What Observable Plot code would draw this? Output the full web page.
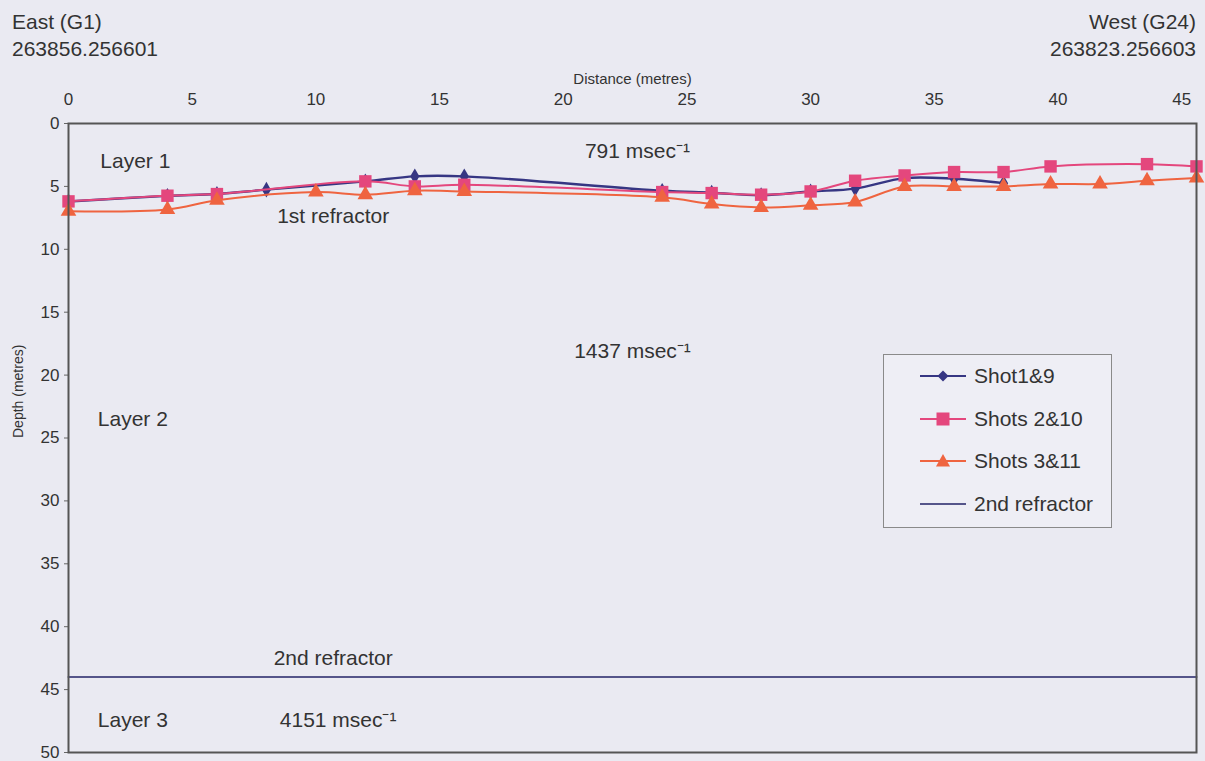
<!DOCTYPE html>
<html>
<head>
<meta charset="utf-8">
<script src="https://cdn.jsdelivr.net/npm/d3@7"></script>
<script src="https://cdn.jsdelivr.net/npm/@observablehq/plot@0.6"></script>
<style>
  html, body { margin: 0; padding: 0; background: #eaeaf2; }
  #wrap { position: relative; width: 1205px; height: 761px; font-family: "Liberation Sans", Arial, sans-serif; color: #333; }
  .hdr { position: absolute; top: 8px; font-size: 21px; line-height: 27px; }
  #legend { position: absolute; left: 883px; top: 354px; width: 227px; height: 172px; border: 1.5px solid #8a8a8a; background: #eeeef5; }
  #legend .row { position: absolute; left: 36px; height: 30px; display: flex; align-items: center; font-size: 21px; }
  #legend svg { margin-right: 8px; }
</style>
</head>
<body>
<div id="wrap">
  <div class="hdr" style="left:12px;">East (G1)<br>263856.256601</div>
  <div class="hdr" style="right:9px; text-align:right;">West (G24)<br>263823.256603</div>
  <div id="chart"></div>
  <div id="legend"></div>
</div>
<script>
// ---- data ----
const distanceTicks = [0, 5, 10, 15, 20, 25, 30, 35, 40, 45];
const depthTicks = [0, 5, 10, 15, 20, 25, 30, 35, 40, 45, 50];

const shot1Distance = [0, 4, 6, 8, 12, 14, 16, 24, 26, 28, 30, 31.8, 33.8, 35.8, 37.8];
const shot1Depth    = [6.2, 5.75, 5.6, 5.26, 4.6, 4.2, 4.2, 5.35, 5.5, 5.7, 5.4, 5.18, 4.34, 4.39, 4.74];

const shot2Distance = [0, 4, 6, 12, 14, 16, 24, 26, 28, 30, 31.8, 33.8, 35.8, 37.8, 39.7, 43.6, 45.6];
const shot2Depth    = [6.19, 5.74, 5.61, 4.6, 5.0, 4.87, 5.45, 5.53, 5.66, 5.4, 4.55, 4.13, 3.86, 3.86, 3.41, 3.23, 3.41];

const shot3Distance = [0, 4, 6, 10, 12, 14, 16, 24, 26, 28, 30, 31.8, 33.8, 35.8, 37.8, 39.7, 41.7, 43.6, 45.6];
const shot3Depth    = [6.98, 6.83, 6.11, 5.45, 5.66, 5.34, 5.4, 5.87, 6.4, 6.67, 6.5, 6.24, 5.0, 5.0, 5.0, 4.81, 4.81, 4.55, 4.34];

const refractor2Distance = [0, 45.6];
const refractor2Depth    = [44, 44];

const seriesNames = ["Shot1&9", "Shots 2&10", "Shots 3&11", "2nd refractor"];
const seriesColors = ["#363683", "#e4477d", "#ef6440", "#55558a"];
const seriesSymbols = ["diamond", "square", "triangle", null];

const annotationText = ["Layer 1", "791 msec⁻¹", "1st refractor", "1437 msec⁻¹", "Layer 2", "2nd refractor", "Layer 3", "4151 msec⁻¹"];
const annotationDistance = [2.7, 23.0, 10.7, 22.8, 2.6, 10.7, 2.6, 10.9];
const annotationDepth = [3.0, 2.2, 7.4, 18.1, 23.5, 42.5, 47.4, 47.4];

// ---- build tables ----
const toRows = (xs, ys) => xs.map((x, i) => ({x, y: ys[i]}));
const s1 = toRows(shot1Distance, shot1Depth);
const s2 = toRows(shot2Distance, shot2Depth);
const s3 = toRows(shot3Distance, shot3Depth);
const r2 = toRows(refractor2Distance, refractor2Depth);
const ann = annotationText.map((t, i) => ({t, x: annotationDistance[i], y: annotationDepth[i]}));

const font = '"Liberation Sans", Arial, sans-serif';

const chart = Plot.plot({
  width: 1205,
  height: 761,
  marginLeft: 68,
  marginRight: 9,
  marginTop: 123,
  marginBottom: 9,
  style: {background: "transparent", fontFamily: font, color: "#333"},
  x: {domain: [0, 45.6]},
  y: {domain: [0, 50], reverse: true},
  marks: [
    Plot.axisX({anchor: "top", ticks: distanceTicks, tickSize: 0, tickPadding: 19, label: null, fontSize: 17, fill: "#333"}),
    Plot.axisY({anchor: "left", ticks: depthTicks, tickSize: 4, tickPadding: 5, label: null, fontSize: 17, fill: "#333", stroke: "#666"}),
    Plot.text(["Distance (metres)"], {frameAnchor: "top", dy: -50, fontSize: 15, fill: "#333"}),
    Plot.text(["Depth (metres)"], {frameAnchor: "left", dx: -50, rotate: -90, fontSize: 14, fill: "#333"}),
    Plot.line(r2, {x: "x", y: "y", stroke: seriesColors[3], strokeWidth: 2}),
    Plot.line(s1, {x: "x", y: "y", stroke: seriesColors[0], strokeWidth: 2.4, curve: "catmull-rom"}),
    Plot.dot(s1, {x: "x", y: "y", symbol: seriesSymbols[0], r: 4.8, fill: seriesColors[0], stroke: "none"}),
    Plot.line(s2, {x: "x", y: "y", stroke: seriesColors[1], strokeWidth: 2, curve: "catmull-rom"}),
    Plot.dot(s2, {x: "x", y: "y", symbol: seriesSymbols[1], r: 7, fill: seriesColors[1], stroke: "none"}),
    Plot.line(s3, {x: "x", y: "y", stroke: seriesColors[2], strokeWidth: 2, curve: "catmull-rom"}),
    Plot.dot(s3, {x: "x", y: "y", symbol: seriesSymbols[2], r: 5.8, fill: seriesColors[2], stroke: "none"}),
    Plot.text(ann, {x: "x", y: "y", text: "t", fontSize: 21, fill: "#333"}),
    Plot.frame({stroke: "#555", strokeWidth: 2})
  ]
});
document.getElementById("chart").appendChild(chart);

// ---- legend ----
const legend = document.getElementById("legend");
const rowTops = [6, 49, 91, 134];
seriesNames.forEach((name, i) => {
  const row = document.createElement("div");
  row.className = "row";
  row.style.top = rowTops[i] + "px";
  const sym = seriesSymbols[i];
  let marker = "";
  if (sym === "diamond") marker = '<path d="M23,9.5 L28.5,15 L23,20.5 L17.5,15 Z" fill="' + seriesColors[i] + '"/>';
  if (sym === "square") marker = '<rect x="16.5" y="8.5" width="13" height="13" fill="' + seriesColors[i] + '"/>';
  if (sym === "triangle") marker = '<path d="M23,8 L30,20.5 L16,20.5 Z" fill="' + seriesColors[i] + '"/>';
  row.innerHTML = '<svg width="46" height="30"><line x1="0" y1="15" x2="46" y2="15" stroke="' + seriesColors[i] + '" stroke-width="2"/>' + marker + '</svg><span>' + name + '</span>';
  legend.appendChild(row);
});
</script>
</body>
</html>
